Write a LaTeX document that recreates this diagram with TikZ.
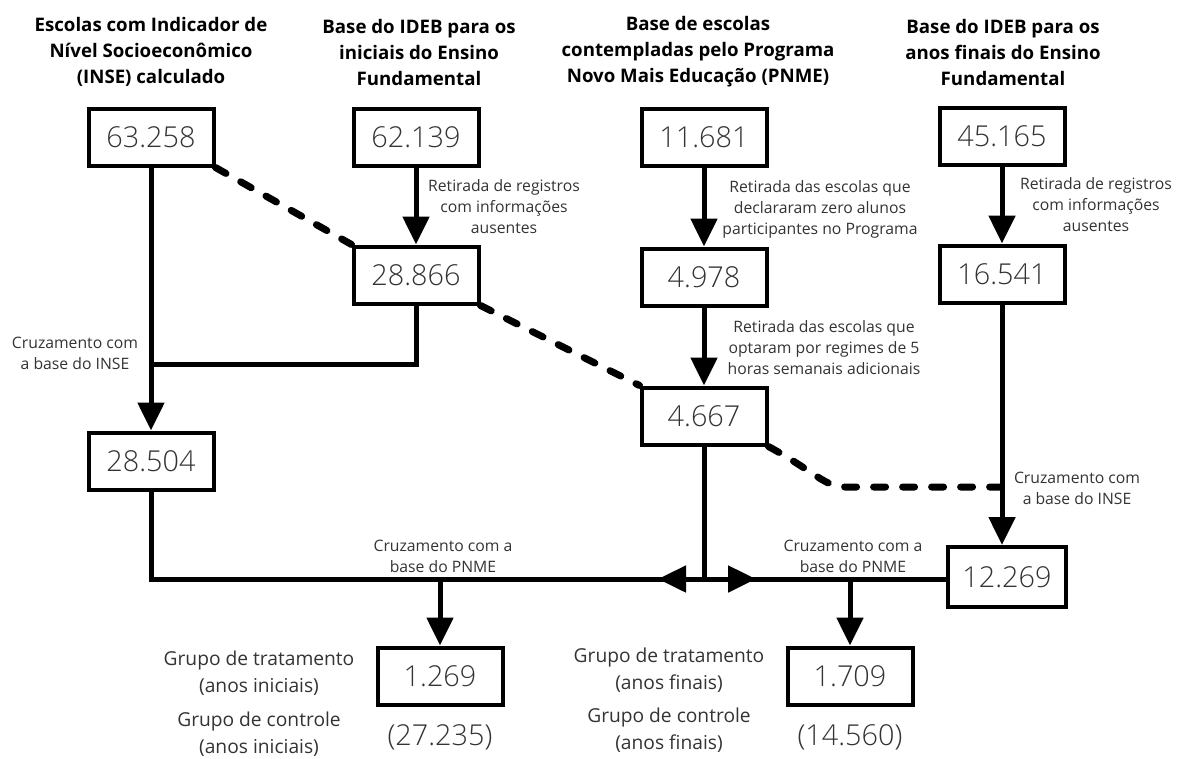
\documentclass[tikz,border=0pt]{standalone}
\usepackage{fontspec}
\setmainfont{Open Sans}
\newfontfamily\lightfont{Open Sans Light}
\usetikzlibrary{arrows.meta}
\newlength{\du}
\setlength{\du}{0.75pt}
\definecolor{textgray}{rgb}{0.200000, 0.200000, 0.200000}
\tikzset{
  numbox/.style={draw=black, line width=4\du, minimum width=125\du, minimum height=57\du, inner sep=0pt, text=textgray, font=\lightfont\fontsize{21.6}{26}\selectfont},
  numlabel/.style={text=textgray, font=\lightfont\fontsize{21.6}{26}\selectfont},
  headline/.style={align=center, font=\bfseries\fontsize{14}{19.5}\selectfont},
  notelabel/.style={align=center, text=textgray, font=\fontsize{11.8}{15.75}\selectfont},
  grouplabel/.style={align=center, text=textgray, font=\fontsize{14.4}{20}\selectfont},
  flow/.style={line width=5\du},
  flowarrow/.style={flow, -{Triangle[length=21pt,width=19.5pt]}},
  dashlink/.style={line width=7\du, dash pattern=on 12\du off 17\du, line cap=round},
}

\begin{document}
\begin{tikzpicture}
\pgftransformxscale{1.000000}
\pgftransformyscale{-1.000000}
\useasboundingbox (0\du,0\du) rectangle (1180\du,758\du);
% sources
\node[headline] (tinse) at (151\du,52\du){Escolas com Indicador de\\Nível Socioeconômico\\(INSE) calculado};
\node[headline] (tini) at (419\du,52\du){Base do IDEB para os\\iniciais do Ensino\\Fundamental};
\node[headline] (tpnme) at (698\du,52\du){Base de escolas\\contempladas pelo Programa\\Novo Mais Educação (PNME)};
\node[headline] (tfin) at (1003\du,52\du){Base do IDEB para os\\anos finais do Ensino\\Fundamental};
% counts
\node[numbox] (ninse) at (151\du,137\du){63.258};
\node[numbox] (nini) at (416\du,137\du){62.139};
\node[numbox] (npnme) at (704\du,137\du){11.681};
\node[numbox] (nfin) at (1002\du,136\du){45.165};
\node[numbox] (nini2) at (416\du,275\du){28.866};
\node[numbox] (npnme2) at (704\du,277\du){4.978};
\node[numbox] (nfin2) at (1002\du,274\du){16.541};
\node[numbox] (npnme3) at (704\du,416\du){4.667};
\node[numbox] (ninse2) at (151\du,461\du){28.504};
\node[numbox, minimum width=118\du, minimum height=60\du] (nfin3) at (1007\du,577\du){12.269};
\node[numbox] (ntrat1) at (440\du,676\du){1.269};
\node[numbox] (ntrat2) at (850\du,676\du){1.709};
\node[numlabel] (nctrl1) at (440\du,737\du){(27.235)};
\node[numlabel] (nctrl2) at (850\du,737\du){(14.560)};
% junctions
\coordinate (jinse) at (151\du,364\du);
\coordinate (jfin) at (1002\du,487\du);
\coordinate (jmid) at (704\du,579\du);
\coordinate (jleft) at (658\du,579\du);
\coordinate (jright) at (756\du,579\du);
\coordinate (jtrat1) at (440\du,579\du);
\coordinate (jtrat2) at (850\du,579\du);
% solid flow
\draw[flowarrow] (ninse) -- (ninse2);
\draw[flowarrow] (nini) -- (nini2);
\draw[flowarrow] (npnme) -- (npnme2);
\draw[flowarrow] (npnme2) -- (npnme3);
\draw[flowarrow] (nfin) -- (nfin2);
\draw[flowarrow] (nfin2.south) -- (nfin2.south |- nfin3.north);
\draw[flow] (nini2.south) |- (jinse);
\draw[flow] (ninse2.south) |- (jmid);
\draw[flow] (npnme3.south) -- (jmid);
\draw[flow] (jmid) -- (jmid -| nfin3.west);
\draw[flowarrow] (jmid) -- (jleft);
\draw[flowarrow] (jmid) -- (jright);
\draw[flowarrow] (jtrat1) -- (ntrat1.north);
\draw[flowarrow] (jtrat2) -- (ntrat2.north);
% dashed links
\draw[dashlink] (ninse.south east) -- (nini2.north west);
\draw[dashlink] (nini2.south east) -- (npnme3.north west);
\draw[dashlink] (npnme3.south east) .. controls (815\du,472\du) and (825\du,487\du) .. (845\du,487\du) -- (jfin);
% step labels
\node[notelabel] (rini) at (504\du,207\du){Retirada de registros\\com informações\\ausentes};
\node[notelabel] (rpnme) at (820\du,209\du){Retirada das escolas que\\declararam zero alunos\\participantes no Programa};
\node[notelabel] (rpnme2) at (824\du,348\du){Retirada das escolas que\\optaram por regimes de 5\\horas semanais adicionais};
\node[notelabel] (rfin) at (1096\du,205\du){Retirada de registros\\com informações\\ausentes};
\node[notelabel] (cinse) at (75\du,353\du){Cruzamento com\\a base do INSE};
\node[notelabel] (cfin) at (1077\du,488\du){Cruzamento com\\a base do INSE};
\node[notelabel] (cpnme1) at (443\du,556\du){Cruzamento com a\\base do PNME};
\node[notelabel] (cpnme2) at (853\du,556\du){Cruzamento com a\\base do PNME};
% groups
\node[grouplabel] (gtrat1) at (259\du,673\du){Grupo de tratamento\\(anos iniciais)};
\node[grouplabel] (gctrl1) at (259\du,734\du){Grupo de controle\\(anos iniciais)};
\node[grouplabel] (gtrat2) at (669\du,670\du){Grupo de tratamento\\(anos finais)};
\node[grouplabel] (gctrl2) at (669\du,730\du){Grupo de controle\\(anos finais)};
\end{tikzpicture}
\end{document}
